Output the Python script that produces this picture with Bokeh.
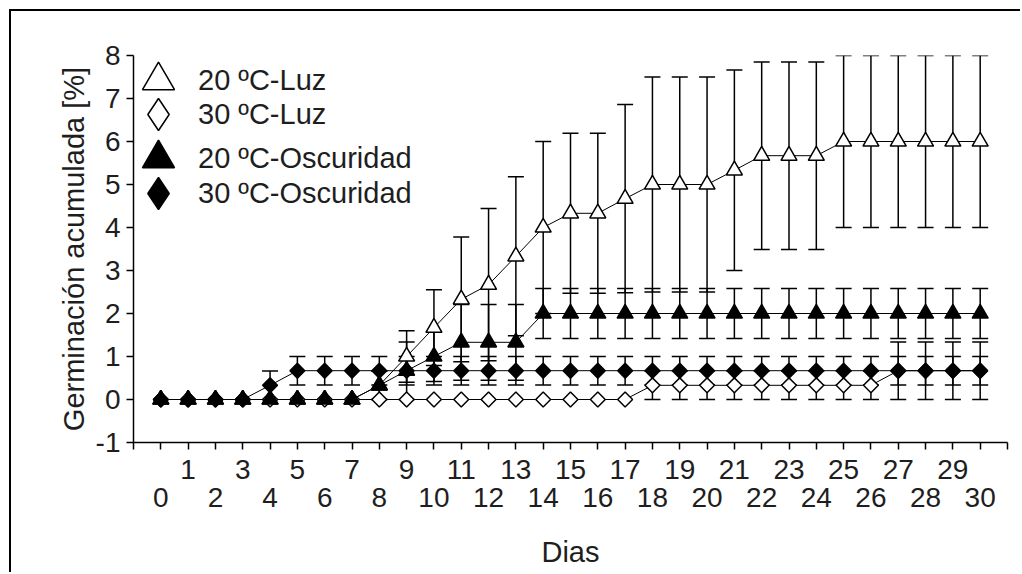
import math
from bokeh.plotting import figure
from bokeh.models import (ColumnDataSource, Whisker, TeeHead, Legend, LegendItem,
                          LinearAxis, FixedTicker, Range1d)
from bokeh.embed import file_html
from bokeh.resources import INLINE

# ---------------- data ----------------
days = [0, 1, 2, 3, 4, 5, 6, 7, 8, 9, 10, 11, 12, 13, 14, 15,
        16, 17, 18, 19, 20, 21, 22, 23, 24, 25, 26, 27, 28, 29, 30]

luz20 = [0, 0, 0, 0, 0, 0, 0, 0, 0.33, 1.0, 1.67, 2.33, 2.67, 3.33, 4.0, 4.33,
         4.33, 4.67, 5.0, 5.0, 5.0, 5.33, 5.67, 5.67, 5.67, 6.0, 6.0, 6.0, 6.0, 6.0, 6.0]
luz20_err = [0, 0, 0, 0, 0, 0, 0, 0, 0.33, 0.6, 0.88, 1.45, 1.77, 1.85, 2.0, 1.86,
             1.86, 2.19, 2.5, 2.5, 2.5, 2.33, 2.18, 2.18, 2.18, 2.0, 2.0, 2.0, 2.0, 2.0, 2.0]

luz30 = [0, 0, 0, 0, 0, 0, 0, 0, 0, 0, 0, 0, 0, 0, 0, 0,
         0, 0, 0.33, 0.33, 0.33, 0.33, 0.33, 0.33, 0.33, 0.33, 0.33, 0.67, 0.67, 0.67, 0.67]
luz30_err = [0, 0, 0, 0, 0, 0, 0, 0, 0, 0, 0, 0, 0, 0, 0, 0,
             0, 0, 0.33, 0.33, 0.33, 0.33, 0.33, 0.33, 0.33, 0.33, 0.33, 0.67, 0.67, 0.67, 0.67]

osc20 = [0, 0, 0, 0, 0, 0, 0, 0, 0.33, 0.67, 1.0, 1.33, 1.33, 1.33, 2.0, 2.0,
         2.0, 2.0, 2.0, 2.0, 2.0, 2.0, 2.0, 2.0, 2.0, 2.0, 2.0, 2.0, 2.0, 2.0, 2.0]
osc20_err = [0, 0, 0, 0, 0, 0, 0, 0, 0.33, 0.67, 0.58, 0.88, 0.88, 0.88, 0.58, 0.58,
             0.58, 0.58, 0.58, 0.58, 0.58, 0.58, 0.58, 0.58, 0.58, 0.58, 0.58, 0.58, 0.58, 0.58, 0.58]

osc30 = [0, 0, 0, 0, 0.33, 0.67, 0.67, 0.67, 0.67, 0.67, 0.67, 0.67, 0.67, 0.67, 0.67, 0.67,
         0.67, 0.67, 0.67, 0.67, 0.67, 0.67, 0.67, 0.67, 0.67, 0.67, 0.67, 0.67, 0.67, 0.67, 0.67]
osc30_err = [0, 0, 0, 0, 0.33, 0.33, 0.33, 0.33, 0.33, 0.33, 0.33, 0.33, 0.33, 0.33, 0.33, 0.33,
             0.33, 0.33, 0.33, 0.33, 0.33, 0.33, 0.33, 0.33, 0.33, 0.33, 0.33, 0.33, 0.33, 0.33, 0.33]

labels = ["20 ºC-Luz", "30 ºC-Luz", "20 ºC-Oscuridad", "30 ºC-Oscuridad"]
y_ticks = [-1, 0, 1, 2, 3, 4, 5, 6, 7, 8]
y_tick_labels = ["-1", "0", "1", "2", "3", "4", "5", "6", "7", "8"]

FONT = "Liberation Sans"
TXT = "#1e1e1e"

# ---------------- figure ----------------
p = figure(width=1011, height=563, x_range=Range1d(-1, 31), y_range=Range1d(-1, 8),
           output_backend="svg", toolbar_location=None, x_axis_type=None,
           min_border_left=122, min_border_right=15, min_border_top=44, min_border_bottom=132)
p.margin = (9, 0, 0, 9)
p.styles = {"border-left": "2px solid black", "border-top": "2px solid black"}
p.outline_line_color = None
p.grid.visible = False
p.background_fill_color = "white"
p.border_fill_color = "white"


def style_axis(ax):
    ax.axis_line_color = "black"
    ax.axis_line_width = 1.5
    ax.major_tick_line_color = "black"
    ax.major_tick_line_width = 1.5
    ax.minor_tick_line_color = None
    ax.major_tick_out = 7
    ax.major_tick_in = 0
    ax.major_label_text_font = FONT
    ax.major_label_text_font_size = "28px"
    ax.major_label_text_color = TXT
    ax.axis_label_text_font = FONT
    ax.axis_label_text_font_size = "29px"
    ax.axis_label_text_font_style = "normal"
    ax.axis_label_text_color = TXT


# y axis
ya = p.yaxis[0]
ya.ticker = FixedTicker(ticks=y_ticks)
ya.major_label_overrides = dict(zip(y_ticks, y_tick_labels))
ya.axis_label = "Germinación acumulada [%]"
style_axis(ya)
ya.major_label_standoff = 6
ya.axis_label_standoff = 3

# x axes: odd labels on first row, even labels on second row
x_ticks = [-1] + days + [31]
odd_over = {t: (str(t) if (t in days and t % 2 == 1) else "") for t in x_ticks}
ax1 = LinearAxis(ticker=FixedTicker(ticks=x_ticks), major_label_overrides=odd_over)
style_axis(ax1)
ax1.major_label_standoff = 10
p.add_layout(ax1, "below")

even_days = [d for d in days if d % 2 == 0]
ax2 = LinearAxis(ticker=FixedTicker(ticks=even_days), axis_label="Dias")
style_axis(ax2)
ax2.axis_line_color = None
ax2.major_tick_line_color = None
ax2.major_tick_out = 0
ax2.major_label_standoff = 6
ax2.axis_label_standoff = 26
p.add_layout(ax2, "below")

# ---------------- series ----------------
# (label, values, errors, marker, fill, size, angle, legend marker)
series = [
    (labels[0], luz20, luz20_err, "triangle", "white", 16, 0.0, None),
    (labels[1], luz30, luz30_err, "square", "white", 10.5, math.pi / 4, "diamond"),
    (labels[3], osc30, osc30_err, "square", "black", 10.5, math.pi / 4, "diamond"),
    (labels[2], osc20, osc20_err, "triangle", "black", 16, 0.0, None),
]

for name, vals, errs, marker, fill, size, ang, lm in series:
    wx = [d for d, e in zip(days, errs) if e > 0]
    wu = [v + e for v, e in zip(vals, errs) if e > 0]
    wl = [v - e for v, e in zip(vals, errs) if e > 0]
    wsrc = ColumnDataSource(data=dict(x=wx, upper=wu, lower=wl))
    w = Whisker(source=wsrc, base="x", upper="upper", lower="lower",
                line_color="black", line_width=1.5,
                upper_head=TeeHead(size=16, line_color="black", line_width=1.5),
                lower_head=TeeHead(size=16, line_color="black", line_width=1.5))
    p.add_layout(w)

for name, vals, errs, marker, fill, size, ang, lm in series:
    p.line(days, vals, line_color="black", line_width=1)

legend_renderers = {}
for name, vals, errs, marker, fill, size, ang, lm in series:
    r = p.scatter(days, vals, marker=marker, size=size, angle=ang,
                  fill_color=fill, line_color="black", line_width=1.5)
    if lm is None:
        legend_renderers[name] = r
    else:
        # hidden twin used only to draw an upright diamond in the legend
        legend_renderers[name] = p.scatter(days, vals, marker=lm, size=size,
                                           fill_color=fill, line_color="black",
                                           line_width=1.5, visible=False)

# ---------------- legend (one block per entry) ----------------
legend_specs = [
    (labels[0], 80, 80, -15, 322, 0),
    (labels[1], 80, 80, -15, 288, 0),
    (labels[2], 80, 80, -15, 244, 0),
    (labels[3], 80, 80, -15, 209, 0),
]
for name, gw, gh, vx, vy, so in legend_specs:
    leg = Legend(items=[LegendItem(label=name, renderers=[legend_renderers[name]])],
                 location=(vx, vy), glyph_width=gw, glyph_height=gh,
                 label_standoff=so, padding=0, margin=0, spacing=0,
                 border_line_color=None, background_fill_alpha=0,
                 label_text_font=FONT, label_text_font_size="29px",
                 label_text_color=TXT)
    p.add_layout(leg)

open("out.html", "w").write(file_html(p, INLINE))
